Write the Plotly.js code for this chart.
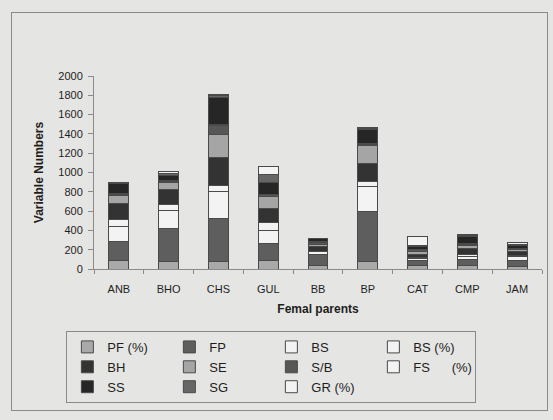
<!DOCTYPE html>
<html>
<head>
<meta charset="utf-8">
<script src="https://cdn.plot.ly/plotly-3.0.1.min.js"></script>
<style>
html,body{margin:0;padding:0;background:#e5e5e3;}
#frame{position:absolute;left:11px;top:12px;width:535px;height:397px;border:1px solid #8a8a8a;}
#chart{position:absolute;left:0;top:0;width:553px;height:420px;}
</style>
</head>
<body>
<div id="frame"></div>
<div id="chart"></div>
<script>
const categories = ["ANB","BHO","CHS","GUL","BB","BP","CAT","CMP","JAM"];
const seriesNames = ["PF (%)","FP","BS","BS (%)","BH","SE","S/B","FS\u00a0\u00a0\u00a0\u00a0\u00a0\u00a0(%)","SS","SG","GR (%)"];
const PF   = [85, 77, 76, 93, 35, 76, 35, 40, 30];
const FP   = [205, 344, 448, 173, 120, 517, 50, 60, 55];
const BS   = [150, 189, 283, 137, 25, 259, 20, 30, 45];
const BSp  = [75, 59, 62, 76, 5, 51, 10, 20, 5];
const BH   = [165, 155, 286, 149, 45, 190, 40, 60, 45];
const SE   = [85, 69, 241, 120, 28, 190, 25, 30, 20];
const SB   = [10, 15, 94, 20, 20, 10, 20, 15, 10];
const FSp  = [5, 5, 10, 5, 5, 5, 5, 5, 5];
const SS   = [105, 60, 280, 120, 30, 150, 30, 75, 30];
const SG   = [5, 20, 20, 87, 0, 10, 5, 15, 12];
const GR   = [3, 13, 10, 86, 0, 4, 100, 10, 15];
const seriesValues = [PF, FP, BS, BSp, BH, SE, SB, FSp, SS, SG, GR];
const yTicks = [0,200,400,600,800,1000,1200,1400,1600,1800,2000];

const colors = ["#a9a9a9","#5e5e5e","#f3f3f3","#f3f3f3","#333333","#a5a5a5","#575757","#f3f3f3","#262626","#666666","#f3f3f3"];

const traces = seriesNames.map((n,i)=>({
  type:"bar", name:n, x:categories, y:seriesValues[i],
  marker:{color:colors[i], line:{color:"#4a4a4a", width:1}}
}));

const layout = {
  width:553, height:420,
  paper_bgcolor:"rgba(0,0,0,0)", plot_bgcolor:"rgba(0,0,0,0)",
  margin:{l:94, r:11, t:76, b:151},
  barmode:"stack", bargap:0.6,
  font:{family:"Liberation Sans, Arial, sans-serif", size:11, color:"#1e1e1e"},
  showlegend:true,
  xaxis:{
    type:"category", showline:true, linecolor:"#8a8a8a", linewidth:1,
    ticks:"outside", tickson:"boundaries", ticklen:4, tickcolor:"#8a8a8a",
    ticklabelstandoff:10,
    tickfont:{size:11, color:"#1e1e1e"},
    title:{text:"Femal parents", font:{size:12, color:"#1e1e1e", weight:"bold"}, standoff:10},
    showgrid:false, fixedrange:true, automargin:false
  },
  yaxis:{
    range:[0,2000], tickvals:yTicks, ticktext:yTicks.map(String),
    showline:true, linecolor:"#8a8a8a", linewidth:1,
    ticks:"outside", ticklen:5, tickcolor:"#8a8a8a",
    ticklabelstandoff:3,
    tickfont:{size:11, color:"#1e1e1e"},
    title:{text:"Variable Numbers", font:{size:12, color:"#1e1e1e", weight:"bold"}, standoff:12},
    showgrid:false, zeroline:false, fixedrange:true, automargin:false
  },
  legend:{
    orientation:"h", traceorder:"normal",
    xref:"container", yref:"container",
    x:0.12, xanchor:"left", y:0.212, yanchor:"top",
    entrywidth:57, entrywidthmode:"pixels",
    bordercolor:"#8a8a8a", borderwidth:1, bgcolor:"rgba(0,0,0,0)",
    font:{size:13, color:"#1e1e1e"}, itemwidth:30,
    tracegroupgap:0
  }
};
Plotly.newPlot("chart", traces, layout, {displayModeBar:false, staticPlot:true});
</script>
</body>
</html>
